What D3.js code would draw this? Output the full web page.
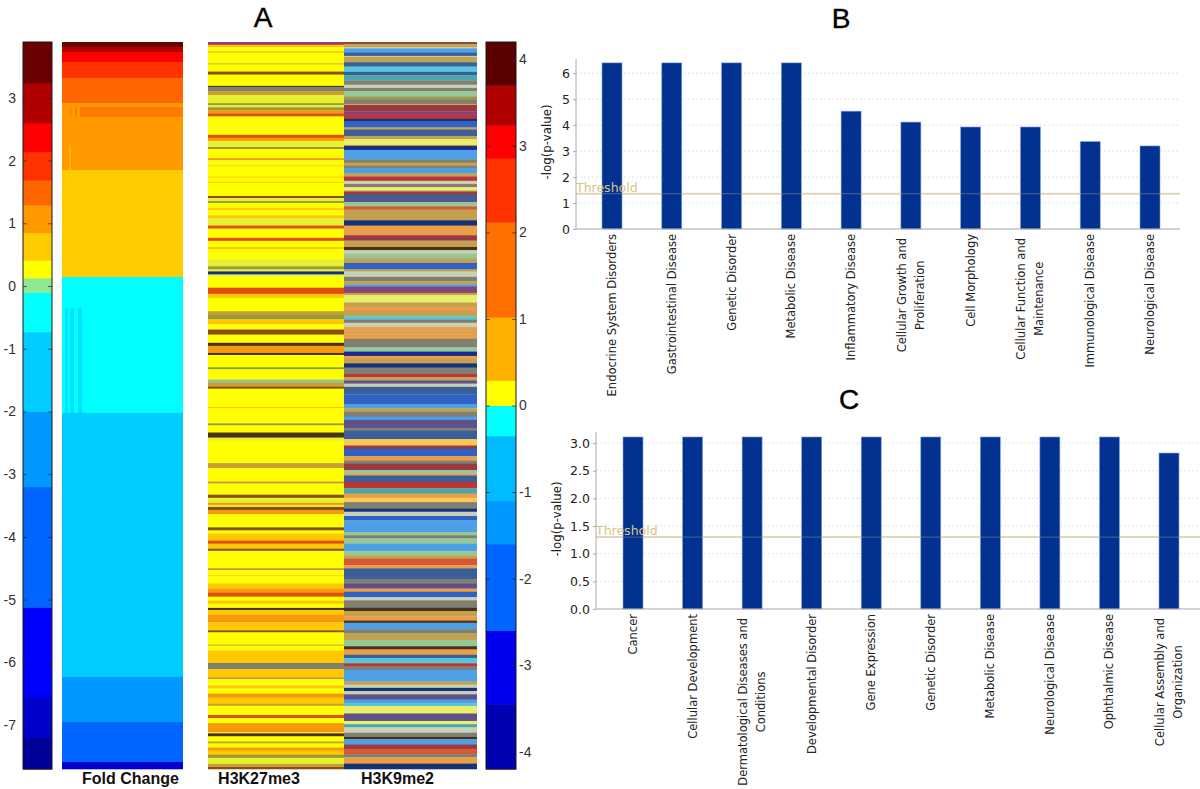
<!DOCTYPE html>
<html>
<head>
<meta charset="utf-8">
<script src="https://cdn.jsdelivr.net/npm/d3@7"></script>
<style>
  body { margin: 0; background: #fff; }
  text { font-family: "Liberation Sans", Arial, sans-serif; }
  .ipa text { font-family: "DejaVu Sans", sans-serif; }
</style>
</head>
<body>
<div class="chart"></div>
<script>
// Panel A: colour bars
var foldBreaks = [-7.2, -6.55, -5.12, -3.2, -2.0, -0.73, -0.1, 0.13, 0.41, 0.85, 1.29, 1.69, 2.14, 2.6, 3.24];
var foldColors = ["#000099", "#0000cc", "#0000ff", "#0066ff", "#0099ff", "#00ccff", "#00ffff", "#90e890", "#ffff00",
  "#ffcc00", "#ff9900", "#ff6600", "#ff3300", "#ff0000", "#b00000", "#6b0000"];
var foldTicks = [3, 2, 1, 0, -1, -2, -3, -4, -5, -6, -7];

var histBreaks = [-3.45, -2.6, -1.6, -1.1, -0.35, 0, 0.29, 1.02, 2.12, 2.86, 3.24, 3.7];
var histColors = ["#0000b0", "#0000ee", "#0066ff", "#0099ff", "#00bbff", "#00ffff", "#ffff00", "#ffb000",
  "#ff7000", "#ff3300", "#ff0000", "#b00000", "#5a0000"];
var histTicks = [4, 3, 2, 1, 0, -1, -2, -3, -4];

// Panel A: fold change column, top to bottom (value of the band, rows in the band)
var foldValues = [3.5, 2.9, 2.4, 1.9, 1.5, 1.0, 0.6, -0.4, -1.3, -2.5, -4, -7];
var foldRows = [5, 5, 10, 16, 25, 67, 107, 136, 264, 45, 40, 7];
// small streaks inside the bands: first column, last column, first row, last row, value
var foldStreaks = [
  [3, 6, 266, 378, -1.3], [8, 12, 266, 378, -1.3], [16, 20, 266, 371, -1.3],
  [18, 121, 65, 75, 1.5], [8, 9, 65, 75, 1.5], [13, 15, 65, 75, 1.5], [7, 9, 103, 128, 0.6]
];

// Panel A: stripes seen in the two histone columns, a level code followed by the rows it covers
var stripeCodes = ["Y", "L", "G", "O", "T", "R", "r", "B", "D", "V", "E", "S", "N", "b", "c", "C", "t", "M", "m", "e", "W", "A", "n"];
var stripeColors = ["#ffff00", "#e8f030", "#ffc800", "#f59a10", "#c8a030", "#e0500a", "#c82828", "#8a5014", "#4c3010",
  "#9a9a30", "#808070", "#90c890", "#0a3080", "#1e60d0", "#30a0f0", "#30c8e0", "#30a8b0", "#8a4080", "#605090",
  "#3060a0", "#c8d0b0", "#a03040", "#1020a0"];

var k27me3 = ("M2 R1 G2 L1 Y3 G2 Y10 T1 Y7 B3 Y11 D1 E4 T4 L8 V2 L2 V3 O3 R3 Y18 R3 O3 L6 V2 Y9 O2 Y5 G1 Y10 G1 Y4 G1 Y13 B2 L3 V2 Y5 G2 Y5 G3 L7 R3 Y9 R3 Y6 G2 Y10 L7 V3 L2 N3 L2 " +
  "Y11 R6 G4 Y13 T3 V5 G5 Y5 B5 Y8 D3 O7 D2 Y12 V2 Y10 S3 T4 B2 Y18 G1 Y15 V2 Y7 D5 L3 Y22 T5 Y13 T2 Y11 B3 L5 O2 L2 B3 " +
  "O4 Y13 B3 Y3 G7 R3 G5 B2 Y17 T2 Y5 G1 Y7 G5 O4 R4 Y4 G3 Y4 D2 G5 O7 G8 B2 Y12 T1 Y5 G5 G7 E6 G8 T2 Y6 G3 Y5 O4 G6 T2 Y9 R3 Y5 O9 Y1 D3 Y5 T2 Y4 O3 G4 V3 L6 T3 B2").split(" ");

var k9me2 = ("B2 T3 W1 c4 e3 W1 T5 e4 C5 e3 t5 E4 W3 E3 S5 V3 E4 O1 A6 M3 r4 N2 b6 T2 e6 T3 L6 D1 n3 c3 c6 E3 T3 E2 c5 T3 r4 W3 E3 L3 T1 A3 e4 m3 S4 R3 T6 T4 N5 O9 A5 T6 D3 W3 S5 T4 b6 T2 W5 E4 T3 c2 " +
  "M6 T2 L7 T4 O4 T5 C3 E3 W4 O4 T2 O5 E8 S4 n4 O3 T4 N4 E6 r3 T3 m3 W3 e7 b9 c4 T3 E5 c3 m8 E2 e8 G6 A3 b7 O4 E3 A6 S3 O2 e6 r6 t5 O4 G4 E6 N3 W4 b4 " +
  "c11 S3 E3 S5 c7 S4 T3 R6 O3 e10 E4 m5 O3 b5 W3 E7 D3 T5 O4 D2 c6 E4 T6 S6 D3 O5 e3 C5 r3 E3 c11 T3 W3 N3 W3 m5 c3 C3 L7 m7 L3 t3 W5 E4 D2 c5 A4 R5 E3 O6 N5").split(" ");

// Panel B
var diseasesB = [["Endocrine System Disorders"], ["Gastrointestinal Disease"], ["Genetic Disorder"], ["Metabolic Disease"],
  ["Inflammatory Disease"], ["Cellular Growth and", "Proliferation"], ["Cell Morphology"],
  ["Cellular Function and", "Maintenance"], ["Immunological Disease"], ["Neurological Disease"]];
var valuesB = [6.4, 6.4, 6.4, 6.4, 4.54, 4.12, 3.93, 3.93, 3.37, 3.2];
var ticksB = [0, 1, 2, 3, 4, 5, 6];
var thresholdB = 1.36;

// Panel C
var diseasesC = [["Cancer"], ["Cellular Development"], ["Dermatological Diseases and", "Conditions"], ["Developmental Disorder"],
  ["Gene Expression"], ["Genetic Disorder"], ["Metabolic Disease"], ["Neurological Disease"], ["Ophthalmic Disease"],
  ["Cellular Assembly and", "Organization"]];
var valuesC = [3.11, 3.11, 3.11, 3.11, 3.11, 3.11, 3.11, 3.11, 3.11, 2.82];
var ticksC = [0, 0.5, 1, 1.5, 2, 2.5, 3];
var thresholdC = 1.3;

var svgWidth = 1200;
var svgHeight = 789;
var heatTop = 42;
var heatBottom = 769;

var svg = d3.select(".chart")
  .append("svg")
  .attr("width", svgWidth)
  .attr("height", svgHeight);

// the reference is a soft jpeg, so the heatmaps get a very small blur
svg.append("filter").attr("id", "soft")
  .append("feGaussianBlur").attr("stdDeviation", 0.45);

var stripeBlur = svg.append("filter").attr("id", "stripeSoft")
  .attr("x", 0).attr("y", 0).attr("width", 1).attr("height", 1);
stripeBlur.append("feGaussianBlur").attr("stdDeviation", "0.2 0.65");

// K9 stripes look washed out in the reference
var mutedBlur = svg.append("filter").attr("id", "stripeMuted")
  .attr("x", 0).attr("y", 0).attr("width", 1).attr("height", 1);
mutedBlur.append("feGaussianBlur").attr("stdDeviation", "0.2 0.65");
mutedBlur.append("feColorMatrix").attr("type", "saturate").attr("values", 0.85);

var stripeColor = d3.scaleOrdinal(stripeCodes, stripeColors);
var foldColor = d3.scaleThreshold(foldBreaks, foldColors);
var histColor = d3.scaleThreshold(histBreaks, histColors);

function colorBar(x0, x1, domain, colorScale, colors, ticks, side) {
  var y = d3.scaleLinear().domain(domain).range([heatTop, heatBottom]);
  var g = svg.append("g");

  g.append("g").attr("filter", "url(#soft)")
    .selectAll("rect")
    .data(colors)
    .enter()
    .append("rect")
    .attr("x", x0)
    .attr("width", x1 - x0)
    .attr("y", function(c) {
      var top = colorScale.invertExtent(c)[1];
      return y(top === undefined ? domain[0] : top);
    })
    .attr("height", function(c) {
      var e = colorScale.invertExtent(c);
      var top = e[1] === undefined ? domain[0] : e[1];
      var bottom = e[0] === undefined ? domain[1] : e[0];
      return y(bottom) - y(top) + 0.5;
    })
    .attr("fill", function(c) { return c; });

  g.append("rect")
    .attr("x", x0).attr("y", heatTop)
    .attr("width", x1 - x0).attr("height", heatBottom - heatTop)
    .attr("fill", "none").attr("stroke", "#1a1a1a").attr("stroke-width", 1);

  var leftAxis = d3.axisLeft(y).tickValues(ticks).tickSize(-4).tickFormat(String);
  var rightAxis = d3.axisRight(y).tickValues(ticks).tickSize(-4).tickFormat(String);

  var la = g.append("g").attr("transform", `translate(${x0},0)`).call(leftAxis.tickPadding(side === "left" ? 7 : 0));
  var ra = g.append("g").attr("transform", `translate(${x1},0)`).call(rightAxis.tickPadding(side === "right" ? 3 : 0));
  (side === "left" ? ra : la).selectAll("text").remove();

  g.selectAll(".domain").remove();
  g.selectAll(".tick line").attr("stroke", "#222").attr("opacity", 0.7);
  g.selectAll(".tick text").attr("font-size", 14).attr("fill", "#333");
}

function stripeColumn(x0, x1, stripes, filterId) {
  var parsed = stripes.map(function(s) { return { code: s[0], rows: +s.slice(1) }; });
  var start = 0;
  parsed.forEach(function(d) { d.start = start; start += d.rows; });

  var y = d3.scaleLinear().domain([0, start]).range([heatTop, heatBottom]);

  svg.append("g").attr("filter", `url(#${filterId})`)
    .selectAll("rect")
    .data(parsed)
    .enter()
    .append("rect")
    .attr("x", x0)
    .attr("width", x1 - x0)
    .attr("y", function(d) { return y(d.start); })
    .attr("height", function(d) { return y(d.start + d.rows) - y(d.start) + 0.3; })
    .attr("fill", function(d) { return stripeColor(d.code); });
}

function foldColumn(x0, x1) {
  var bands = [];
  var start = 0;
  foldValues.forEach(function(v, i) {
    bands.push({ value: v, start: start, rows: foldRows[i] });
    start += foldRows[i];
  });

  var y = d3.scaleLinear().domain([0, start]).range([heatTop, heatBottom]);
  var x = d3.scaleLinear().domain([0, 121]).range([x0, x1]);
  var g = svg.append("g").attr("filter", "url(#soft)");

  g.selectAll(".band")
    .data(bands)
    .enter()
    .append("rect")
    .attr("class", "band")
    .attr("x", x0)
    .attr("width", x1 - x0)
    .attr("y", function(d) { return y(d.start); })
    .attr("height", function(d) { return y(d.start + d.rows) - y(d.start) + 0.3; })
    .attr("fill", function(d) { return foldColor(d.value); });

  g.selectAll(".streak")
    .data(foldStreaks)
    .enter()
    .append("rect")
    .attr("class", "streak")
    .attr("x", function(d) { return x(d[0]); })
    .attr("width", function(d) { return x(d[1]) - x(d[0]); })
    .attr("y", function(d) { return y(d[2]); })
    .attr("height", function(d) { return y(d[3]) - y(d[2]); })
    .attr("fill", function(d) { return foldColor(d[4]); })
    .attr("opacity", 0.6);
}

function barPanel(p) {
  var y = d3.scaleLinear().domain([0, p.yMax]).range([p.base, p.top]);
  var x = d3.scaleLinear().domain([0, 9]).range([p.first, p.last]);
  var g = svg.append("g").attr("class", "ipa");

  // dotted grid
  g.selectAll(".grid")
    .data(p.ticks.filter(function(t) { return t > 0; }))
    .enter()
    .append("line")
    .attr("class", "grid")
    .attr("x1", p.axisX)
    .attr("x2", p.right)
    .attr("y1", function(t) { return y(t); })
    .attr("y2", function(t) { return y(t); })
    .attr("stroke", "#e2e2e2")
    .attr("stroke-dasharray", "2,2");

  // threshold, wide under the bars
  g.append("line")
    .attr("x1", p.axisX).attr("x2", p.right)
    .attr("y1", y(p.threshold)).attr("y2", y(p.threshold))
    .attr("stroke", "#ebe0b8").attr("stroke-width", 2);

  g.selectAll(".bar")
    .data(p.values)
    .enter()
    .append("rect")
    .attr("class", "bar")
    .attr("x", function(d, i) { return x(i) - p.barWidth / 2; })
    .attr("width", p.barWidth)
    .attr("y", function(d) { return y(d); })
    .attr("height", function(d) { return p.base - y(d); })
    .attr("fill", "#03318f")
    .attr("stroke", "#7aa5e6")
    .attr("stroke-width", 0.6);

  // and faint across them
  g.append("line")
    .attr("x1", p.axisX).attr("x2", p.right)
    .attr("y1", y(p.threshold)).attr("y2", y(p.threshold))
    .attr("stroke", "#b8b49c").attr("stroke-width", 0.8).attr("opacity", 0.5);

  g.append("text")
    .attr("x", p.axisX)
    .attr("y", y(p.threshold) - 2)
    .attr("font-size", 12.5)
    .attr("fill", "#d9c486")
    .text("Threshold");

  var axis = d3.axisLeft(y).tickValues(p.ticks).tickSize(3).tickPadding(3).tickFormat(p.format);
  var ag = g.append("g").attr("transform", `translate(${p.axisX},0)`).call(axis);
  ag.select(".domain").attr("stroke", "#aaa").attr("d", `M0,${p.base}V${p.top}`);
  ag.selectAll(".tick line").attr("stroke", "#aaa");
  ag.selectAll(".tick text").attr("font-size", 12.5).attr("fill", "#222");

  g.append("line")
    .attr("x1", p.axisX).attr("x2", p.right)
    .attr("y1", p.base).attr("y2", p.base)
    .attr("stroke", "#a8a8a8").attr("stroke-width", 1.2);

  g.append("text")
    .attr("transform", `translate(${p.titleX},${p.titleY}) rotate(-90)`)
    .attr("text-anchor", "middle")
    .attr("font-size", 11.8)
    .attr("fill", "#222")
    .text("-log(p-value)");

  // category labels, read bottom to top and hung just under the axis
  p.labels.forEach(function(lines, i) {
    var label = g.append("text")
      .attr("font-size", 11.5)
      .attr("fill", "#222");
    lines.forEach(function(line, j) {
      label.append("tspan")
        .attr("x", 0)
        .attr("dy", j === 0 ? 0 : 18)
        .text(line);
    });
    if (lines.length === 1) {
      label.attr("text-anchor", "end")
        .attr("transform", `translate(${x(i) + 4},${p.base + 5}) rotate(-90)`);
    } else {
      var longest = d3.max(label.selectAll("tspan").nodes(), function(n) { return n.getComputedTextLength(); });
      label.attr("text-anchor", "middle")
        .attr("transform", `translate(${x(i) - 5},${p.base + 9 + longest / 2}) rotate(-90)`);
    }
  });
}

colorBar(23, 52, [3.89, -7.7], foldColor, foldColors, foldTicks, "left");
foldColumn(62, 183);
stripeColumn(208, 344, k27me3, "stripeSoft");
stripeColumn(344, 477, k9me2, "stripeMuted");
colorBar(486, 516, [4.2, -4.2], histColor, histColors, histTicks, "right");

barPanel({
  labels: diseasesB, values: valuesB, ticks: ticksB, threshold: thresholdB,
  yMax: 6.55, base: 229, top: 59, first: 612, last: 1150, axisX: 576, right: 1180,
  barWidth: 20, titleX: 551, titleY: 142, format: d3.format("d")
});

barPanel({
  labels: diseasesC, values: valuesC, ticks: ticksC, threshold: thresholdC,
  yMax: 3.2, base: 609, top: 432, first: 633, last: 1169, axisX: 596, right: 1200,
  barWidth: 20, titleX: 561, titleY: 519, format: d3.format(".1f")
});

// panel letters and column captions
var letters = [["A", 263, 27], ["B", 841, 28], ["C", 849, 409]];
svg.selectAll(".letter")
  .data(letters)
  .enter()
  .append("text")
  .attr("class", "letter")
  .attr("x", function(d) { return d[1]; })
  .attr("y", function(d) { return d[2]; })
  .attr("text-anchor", "middle")
  .attr("font-size", 28)
  .attr("stroke", "#000")
  .attr("stroke-width", 0.4)
  .attr("fill", "#000")
  .text(function(d) { return d[0]; });

var captions = [["Fold Change", 130.5], ["H3K27me3", 259], ["H3K9me2", 397.5]];
svg.selectAll(".caption")
  .data(captions)
  .enter()
  .append("text")
  .attr("class", "caption")
  .attr("x", function(d) { return d[1]; })
  .attr("y", 784)
  .attr("text-anchor", "middle")
  .attr("font-size", 16)
  .attr("font-weight", "bold")
  .attr("fill", "#111")
  .text(function(d) { return d[0]; });
</script>
</body>
</html>
